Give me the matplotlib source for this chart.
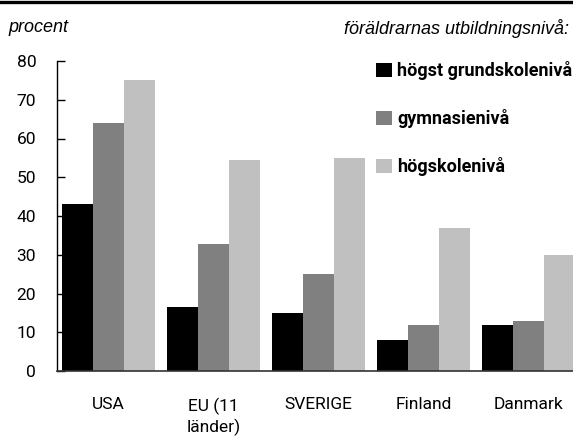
import numpy as np
import matplotlib
matplotlib.use("Agg")
import matplotlib.pyplot as plt
from matplotlib.patches import Patch

# Data
lander = ["USA", "EU (11\nländer)", "SVERIGE", "Finland", "Danmark"]
grundskola = [43, 16.5, 15, 8, 12]
gymnasium = [64, 32.7, 25, 12, 13]
hogskola = [75, 54.4, 55, 37, 30]
serier = ["högst grundskolenivå", "gymnasienivå", "högskolenivå"]
farger = ["#000000", "#808080", "#c0c0c0"]

smal = ["Roboto", "DejaVu Sans"]

fig = plt.figure(figsize=(5.73, 4.41), dpi=100)
ax = fig.add_axes([57 / 573, 70 / 441, 1 - 57 / 573, 310 / 441])

x = np.arange(len(lander))
w = 0.295
for i, (vals, col) in enumerate(zip([grundskola, gymnasium, hogskola], farger)):
    ax.bar(x + (i - 1) * w, vals, width=w, color=col, linewidth=0)

ax.set_ylim(0, 80)
ax.set_xlim(-0.49, 4.424)
ax.set_yticks(range(0, 81, 10))
ax.set_xticks(x)
ax.set_xticklabels(lander, family=smal, fontsize=12.5, linespacing=1.3)
for t in ax.get_yticklabels():
    t.set_family(smal)
    t.set_fontsize(12.5)
ax.tick_params(axis="y", direction="in", length=6, width=1, pad=15)
ax.tick_params(axis="x", length=0, pad=19)
for s in ["top", "right"]:
    ax.spines[s].set_visible(False)
ax.spines["left"].set_linewidth(1)
ax.spines["bottom"].set_linewidth(1.2)
ax.spines["bottom"].set_color("#333333")

# Legend
handles = [Patch(facecolor=c, edgecolor="none") for c in farger]
leg = ax.legend(handles, serier, loc="upper left", bbox_to_anchor=(371 / 573, 1 - 56 / 441),
                bbox_transform=fig.transFigure, frameon=False, handlelength=0.85,
                handleheight=0.85, handletextpad=0.3, labelspacing=1.6,
                borderaxespad=0, borderpad=0.3,
                prop={"family": smal, "weight": "bold", "size": 13})

# Header texts and top line
fig.text(8 / 573, 1 - 28 / 441, "procent", style="italic", family="Liberation Sans",
         fontsize=13, va="center", ha="left")
fig.text(569 / 573, 1 - 28 / 441, "föräldrarnas utbildningsnivå:", style="italic",
         family="Liberation Sans", fontsize=13, va="center", ha="right")
fig.add_artist(plt.Line2D([0, 1], [1 - 1.5 / 441, 1 - 1.5 / 441], color="black",
                          linewidth=2.4, transform=fig.transFigure))

fig.savefig("out.png", dpi=100)
